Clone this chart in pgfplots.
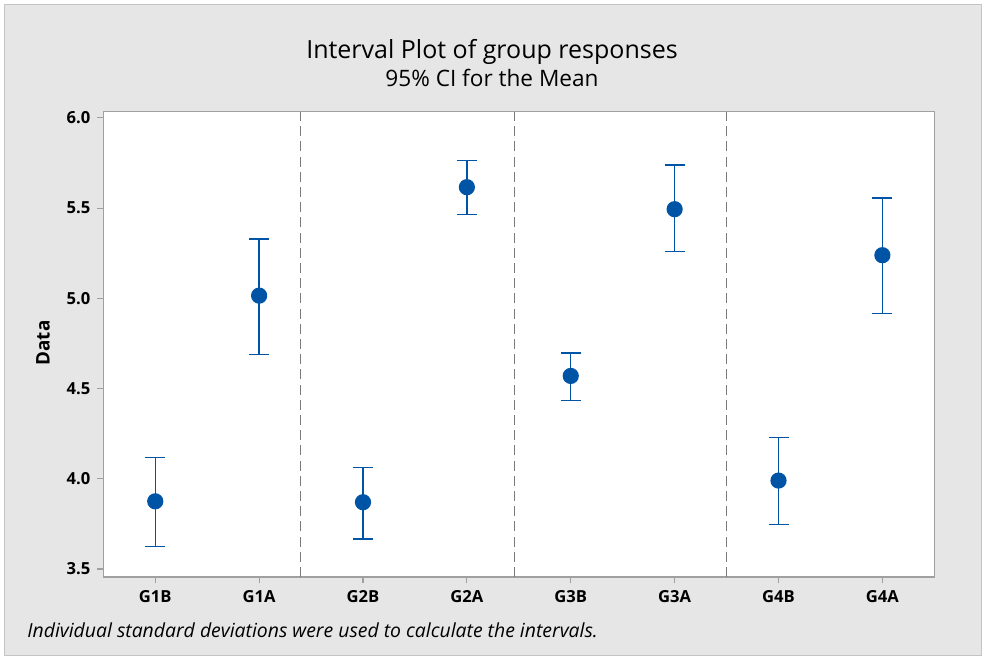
\documentclass[border=0pt]{standalone}
\usepackage{fontspec}
\setmainfont{Open Sans}
\usepackage{pgfplots}
\pgfplotsset{compat=1.18}
\usepackage{pgfplotstable}

\definecolor{bgray}{HTML}{E6E6E6}
\definecolor{frame}{HTML}{C4C4C4}
\definecolor{axgray}{HTML}{A0A0A0}
\definecolor{dashgray}{HTML}{7A7A7A}
\definecolor{ptblue}{HTML}{0054A6}

% x, mean, upper offset, lower offset
\pgfplotstableread{
x  y      ep     em
0  3.875  0.244  0.249
1  5.015  0.313  0.325
2  3.870  0.194  0.204
3  5.616  0.149  0.150
4  4.570  0.126  0.135
5  5.494  0.244  0.233
6  3.990  0.240  0.242
7  5.239  0.316  0.322
}\groups

\begin{document}
\begin{tikzpicture}
% page, frame and texts (1 unit = 1 px of the reference)
\begin{scope}[x=0.5bp, y=0.5bp]
\fill[white] (0,0) rectangle (986,660);
\filldraw[fill=bgray, draw=frame, line width=0.6bp] (4.5,4.5) rectangle (981.5,655.5);

\node[anchor=base, font=\fontsize{12.5bp}{14bp}\selectfont] at (492,601.7) {Interval Plot of group responses};
\node[anchor=base, font=\fontsize{11.3bp}{13bp}\selectfont] at (492,573.7) {95\% CI for the Mean};
\node[anchor=base west, font=\fontsize{9.7bp}{11bp}\selectfont\itshape, inner sep=0pt] at (27,22) {Individual standard deviations were used to calculate the intervals.};
\node[rotate=90, font=\fontsize{9.4bp}{11bp}\selectfont\bfseries] at (43,317) {Data};
\end{scope}

\begin{axis}[
    at={(51.65bp,41.5bp)}, anchor=south west,
    width=415.5bp, height=232.7bp, scale only axis,
    axis background/.style={fill=white},
    axis line style={axgray, line width=0.6bp},
    xmin=-0.5, xmax=7.5,
    ymin=3.4557, ymax=6.035,
    xtick={0,...,7},
    xticklabels={G1B,G1A,G2B,G2A,G3B,G3A,G4B,G4A},
    ytick={3.5,4.0,4.5,5.0,5.5,6.0},
    yticklabel style={/pgf/number format/.cd, fixed, fixed zerofill, precision=1, assume math mode=true},
    tick label style={font=\fontsize{8.3bp}{10bp}\selectfont\bfseries},
    tick align=outside, major tick length=3bp,
    tick style={axgray, line width=0.6bp},
    xtick pos=lower, ytick pos=left,
    clip=false,
]
\draw[dashgray, line width=0.6bp, dash pattern=on 5bp off 2.6bp] (axis cs:1.397,3.4557) -- (axis cs:1.397,6.035);
\draw[dashgray, line width=0.6bp, dash pattern=on 5bp off 2.6bp] (axis cs:3.46,3.4557) -- (axis cs:3.46,6.035);
\draw[dashgray, line width=0.6bp, dash pattern=on 5bp off 2.6bp] (axis cs:5.50,3.4557) -- (axis cs:5.50,6.035);

\addplot[only marks, mark=*, mark size=3.7bp, color=ptblue, line width=0.7bp,
    error bars/.cd, y dir=both, y explicit,
    error mark=|,
    error bar style={ptblue, line width=0.7bp},
    error mark options={ptblue, mark size=5bp, line width=0.7bp}]
    table[x=x, y=y, y error plus=ep, y error minus=em] {\groups};
\end{axis}
\end{tikzpicture}
\end{document}
